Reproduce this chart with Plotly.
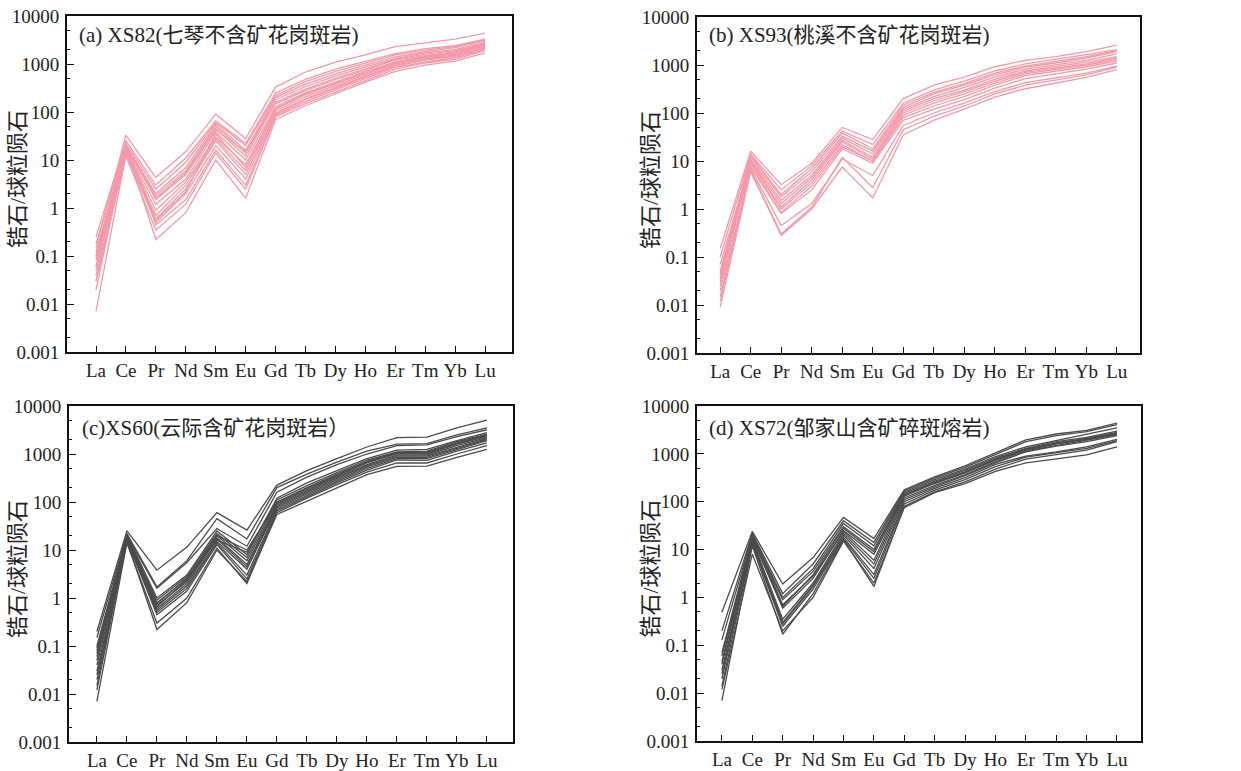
import plotly.graph_objects as go

W, H = 1241, 771

elements = ["La", "Ce", "Pr", "Nd", "Sm", "Eu", "Gd", "Tb", "Dy", "Ho", "Er", "Tm", "Yb", "Lu"]
ytick_vals = [0.001, 0.01, 0.1, 1, 10, 100, 1000, 10000]
ytick_text = ["0.001", "0.01", "0.1", "1", "10", "100", "1000", "10000"]

titles = ["(a) XS82(七琴不含矿花岗斑岩)", "(b) XS93(桃溪不含矿花岗斑岩)",
          "(c)XS60(云际含矿花岗斑岩）", "(d) XS72(邹家山含矿碎斑熔岩)"]
y_title = "锆石/球粒陨石"

# (a) XS82 samples
xs82 = [
    [0.15, 33, 4.3, 15, 90, 28, 330, 680, 1100, 1550, 2300, 2800, 3300, 4400],
    [0.25, 25, 3.0, 11, 65, 22, 250, 480, 780, 1150, 1650, 2100, 2400, 3300],
    [0.10, 22, 2.5, 9, 60, 20, 220, 430, 700, 1050, 1550, 1950, 2300, 3200],
    [0.08, 20, 2.0, 7, 55, 16, 200, 380, 620, 950, 1400, 1800, 2200, 3000],
    [0.05, 19, 1.8, 6, 50, 14, 180, 340, 560, 870, 1300, 1700, 2000, 2800],
    [0.03, 18, 1.6, 5.5, 45, 12, 160, 300, 500, 800, 1250, 1600, 1900, 2700],
    [0.12, 21, 1.5, 5, 42, 15, 150, 280, 470, 760, 1200, 1500, 1800, 2600],
    [0.02, 17, 1.2, 4, 38, 10, 130, 250, 420, 700, 1100, 1450, 1700, 2500],
    [0.06, 16, 0.9, 3.5, 30, 8, 115, 230, 390, 650, 1050, 1350, 1600, 2400],
    [0.09, 15, 0.7, 3, 28, 6, 105, 210, 360, 600, 1000, 1300, 1550, 2300],
    [0.04, 14, 0.6, 2.5, 25, 5, 95, 190, 330, 560, 950, 1250, 1500, 2200],
    [0.007, 13, 0.5, 2, 20, 4, 90, 180, 310, 520, 900, 1200, 1450, 2100],
    [0.18, 23, 0.45, 1.5, 16, 3, 85, 165, 290, 490, 850, 1100, 1350, 2000],
    [0.03, 12, 0.35, 1.2, 14, 2.5, 80, 150, 260, 450, 780, 1050, 1250, 1900],
    [0.06, 18, 0.22, 0.8, 10, 1.6, 70, 135, 240, 420, 700, 950, 1150, 1700],
    [0.10, 20, 0.55, 2.2, 35, 7, 120, 240, 400, 660, 1100, 1400, 1700, 2600],
]

# (b) XS93 samples
xs93 = [
    [0.15, 16, 3.2, 9, 50, 28, 200, 380, 560, 920, 1250, 1500, 1900, 2600],
    [0.10, 14, 2.5, 8, 42, 22, 160, 300, 460, 750, 1050, 1300, 1650, 2100],
    [0.05, 13, 2.0, 7, 38, 18, 145, 270, 410, 680, 950, 1200, 1500, 2000],
    [0.04, 12, 1.8, 6, 33, 16, 130, 250, 380, 620, 900, 1100, 1400, 1900],
    [0.03, 11, 1.5, 5, 30, 14, 120, 220, 340, 560, 820, 1000, 1250, 1700],
    [0.07, 10, 1.3, 4.5, 27, 12, 110, 200, 300, 500, 750, 920, 1150, 1500],
    [0.045, 9.5, 1.1, 4, 25, 11, 100, 180, 280, 460, 700, 860, 1050, 1400],
    [0.025, 9, 1.0, 3.5, 22, 10, 90, 160, 250, 420, 650, 800, 1000, 1300],
    [0.035, 8, 0.85, 3, 20, 10, 80, 140, 220, 380, 600, 740, 920, 1200],
    [0.015, 7.5, 0.8, 2.5, 18, 9, 70, 120, 190, 330, 520, 660, 820, 1100],
    [0.012, 7, 0.45, 1.3, 11, 5, 55, 100, 160, 280, 430, 550, 680, 950],
    [0.009, 6, 0.28, 1.0, 7.5, 1.7, 35, 70, 120, 215, 320, 420, 550, 800],
    [0.02, 6.5, 0.30, 1.1, 12, 2.8, 45, 85, 140, 250, 380, 480, 620, 900],
]

# (c) XS60 samples
xs60 = [
    [0.20, 25, 3.8, 11.5, 60, 26, 225, 450, 800, 1400, 2200, 2250, 3500, 5100],
    [0.15, 22, 1.7, 6, 45, 17, 200, 380, 680, 1150, 1600, 1650, 2500, 3500],
    [0.10, 20, 1.6, 5.5, 28, 12, 160, 330, 600, 1000, 1500, 1550, 2300, 3200],
    [0.08, 21, 1.0, 3, 25, 8, 120, 250, 450, 800, 1200, 1250, 1900, 2800],
    [0.06, 19, 0.9, 2.8, 22, 7, 100, 200, 380, 700, 1050, 1100, 1700, 2500],
    [0.05, 18, 0.8, 2.5, 20, 6, 90, 180, 350, 650, 1000, 1000, 1600, 2300],
    [0.04, 17, 0.7, 2.2, 18, 5, 85, 170, 330, 600, 950, 950, 1500, 2200],
    [0.03, 16, 0.6, 2.0, 17, 4.5, 80, 160, 310, 570, 900, 900, 1400, 2100],
    [0.02, 15, 0.55, 1.8, 15, 4, 75, 150, 290, 540, 850, 850, 1300, 2000],
    [0.015, 18, 0.5, 1.6, 14, 3, 70, 140, 270, 500, 800, 800, 1250, 1900],
    [0.012, 16, 0.45, 1.4, 13, 2.5, 65, 130, 250, 460, 750, 740, 1150, 1700],
    [0.007, 14, 0.30, 1.0, 11, 2, 60, 120, 230, 420, 650, 650, 1000, 1500],
    [0.025, 15, 0.22, 0.8, 10, 2.2, 55, 105, 200, 370, 550, 560, 850, 1250],
    [0.07, 20, 0.65, 2.4, 20, 10, 95, 190, 360, 680, 1050, 1050, 1650, 2400],
    [0.09, 19, 0.75, 2.6, 16, 9, 110, 220, 410, 750, 1100, 1150, 1800, 2600],
]

# (d) XS72 samples
xs72 = [
    [0.49, 24, 1.9, 6.8, 47, 17, 178, 330, 560, 1050, 1960, 2600, 3100, 4400],
    [0.20, 22, 1.2, 5, 40, 14, 170, 310, 520, 950, 1800, 2400, 2900, 4100],
    [0.13, 20, 1.0, 4, 35, 12, 160, 290, 480, 880, 1400, 1900, 2500, 3500],
    [0.07, 19, 0.9, 3.5, 30, 10, 150, 270, 450, 820, 1300, 1800, 2200, 3000],
    [0.06, 18, 0.65, 3, 28, 9, 140, 255, 420, 780, 1250, 1700, 2100, 2800],
    [0.04, 17, 0.6, 2.5, 25, 8, 130, 240, 400, 740, 1200, 1600, 2000, 2600],
    [0.03, 16, 0.35, 2, 22, 5, 120, 220, 370, 690, 1150, 1500, 1900, 2500],
    [0.025, 15, 0.30, 1.8, 20, 4, 110, 205, 350, 650, 1100, 1450, 1800, 2400],
    [0.02, 14, 0.28, 1.7, 18, 3, 100, 190, 320, 600, 900, 1100, 1400, 2000],
    [0.014, 13, 0.25, 1.5, 17, 2.5, 90, 175, 290, 540, 850, 1050, 1300, 1900],
    [0.007, 12, 0.17, 1.2, 16, 1.7, 80, 160, 260, 480, 780, 950, 1200, 1800],
    [0.012, 8, 0.20, 1.0, 15, 2, 75, 155, 240, 430, 650, 800, 950, 1400],
    [0.045, 21, 0.70, 2.8, 24, 6, 135, 250, 410, 760, 1200, 1650, 2050, 2700],
]

pink = "#F29AAA"
dark = "#4B4B4B"

# pixel layout of the four panels: (left, right, top, bottom), x-range, title pos, y-title x
panels = [
    (xs82, pink, (67, 512, 16, 352), [-0.97, 13.9], (77, 35), 17),
    (xs93, pink, (697, 1140, 17, 353), [-0.76, 13.76], (707, 35), 650),
    (xs60, dark, (69, 513, 406, 742), [-0.93, 13.87], (80, 428), 17),
    (xs72, dark, (697, 1141, 406, 741), [-0.82, 13.79], (707, 428), 650),
]

FONT = "Liberation Serif, Times New Roman, Noto Sans CJK SC, serif"

fig = go.Figure()
layout = dict(
    width=W, height=H, margin=dict(l=0, r=0, t=0, b=0, autoexpand=False),
    paper_bgcolor="white", plot_bgcolor="white", showlegend=False,
    font=dict(family=FONT, size=17, color="#222"),
)
annotations = []
for i, (data, color, (l, r, t, b), xr, (tx, ty), yt_x) in enumerate(panels):
    sfx = "" if i == 0 else str(i + 1)
    for row in data:
        fig.add_trace(go.Scatter(
            x=elements, y=row, mode="lines",
            line=dict(color=color, width=1.3),
            xaxis="x" + sfx, yaxis="y" + sfx, hoverinfo="skip",
        ))
    layout["xaxis" + sfx] = dict(
        domain=[l / W, r / W], anchor="y" + sfx, type="category",
        range=xr, showgrid=False, zeroline=False, automargin=False,
        showline=True, linecolor="#111", linewidth=2, mirror=True,
        ticks="inside", ticklen=6, tickwidth=1, tickcolor="#111",
        tickfont=dict(size=19, family=FONT, color="#222"),
        categoryorder="array", categoryarray=elements,
    )
    layout["yaxis" + sfx] = dict(
        domain=[1 - b / H, 1 - t / H], anchor="x" + sfx, type="log",
        range=[-3, 4], showgrid=False, zeroline=False, automargin=False,
        showline=True, linecolor="#111", linewidth=2, mirror=True,
        ticks="inside", ticklen=7, tickwidth=1, tickcolor="#111",
        tickvals=ytick_vals, ticktext=ytick_text,
        tickfont=dict(size=19, family=FONT, color="#222"),
        ticklabelstandoff=2,
        minor=dict(ticks="inside", ticklen=3, tickcolor="#111", tickwidth=1,
                   showgrid=False),
    )
    annotations.append(dict(
        text=titles[i], xref="paper", yref="paper",
        x=tx / W, y=1 - ty / H, xanchor="left", yanchor="middle",
        showarrow=False, font=dict(size=21, family=FONT, color="#222"),
    ))
    annotations.append(dict(
        text=y_title, xref="paper", yref="paper", textangle=-90,
        x=yt_x / W, y=1 - ((t + b) / 2 - 5) / H, xanchor="center", yanchor="middle",
        showarrow=False, font=dict(size=22, family=FONT, color="#222"),
    ))
layout["annotations"] = annotations
fig.update_layout(**layout)
fig.write_html("out.html")
